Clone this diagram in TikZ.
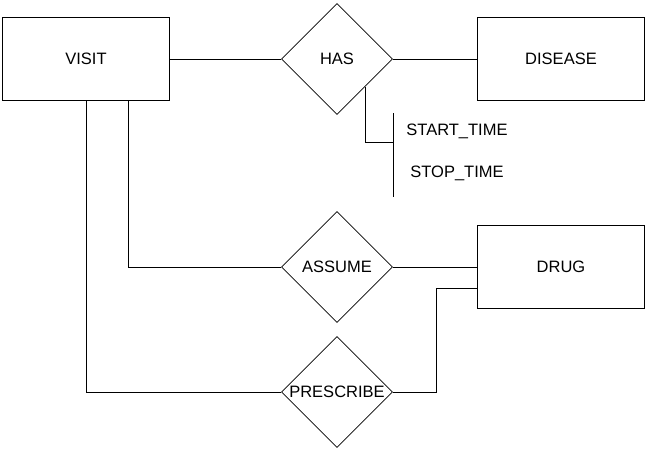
\documentclass[tikz,border=0pt]{standalone}
\usepackage{fontspec}
\setmainfont{Liberation Sans}
\usetikzlibrary{shapes.geometric,positioning}
\tikzset{
  entity/.style = {draw, rectangle, minimum width=167pt, minimum height=83pt, inner sep=0pt},
  relation/.style = {draw, diamond, aspect=1, minimum width=111pt, minimum height=111pt, inner sep=0pt},
  attrib/.style = {anchor=west, inner sep=0pt}
}
\begin{document}
\begin{tikzpicture}[x=1pt, y=-1pt, line width=0.8pt, font=\fontsize{16.5}{19}\selectfont]
      \useasboundingbox (0,0) rectangle (648,452);
      %Entities
      \node[entity] (visit) at (86,59) {VISIT};
      \node[entity] (disease) at (561,59) {DISEASE};
      \node[entity] (drug) at (561,267) {DRUG};
      %Relations
      \node[relation] (has) at (337,59) {HAS};
      \node[relation] (assume) at (337,267) {ASSUME};
      \node[relation] (prescribe) at (337,392) {PRESCRIBE};
      %Attributes of HAS
      \coordinate (bartop) at (393,113);
      \coordinate (barbot) at (393,197);
      \coordinate (barmid) at (393,142);
      \node[attrib] (start) at (406,131) {START\_TIME};
      \node[attrib] (stop) at (410,173) {STOP\_TIME};
      \draw[-] (bartop) -- (barbot);
      \draw[-] (has.south east) |- (barmid);
      %Links
      \coordinate (visitr) at ([xshift=42pt]visit.south);
      \coordinate (drugl) at ([yshift=-21pt]drug.west);
      \draw[-] (visit.east) -- (has.west);
      \draw[-] (has.east) -- (disease.west);
      \draw[-] (visitr) |- (assume.west);
      \draw[-] (assume.east) -- (drug.west);
      \draw[-] (visit.south) |- (prescribe.west);
      \draw[-] (prescribe.east) -- ++(43,0) |- (drugl);
\end{tikzpicture}
\end{document}
